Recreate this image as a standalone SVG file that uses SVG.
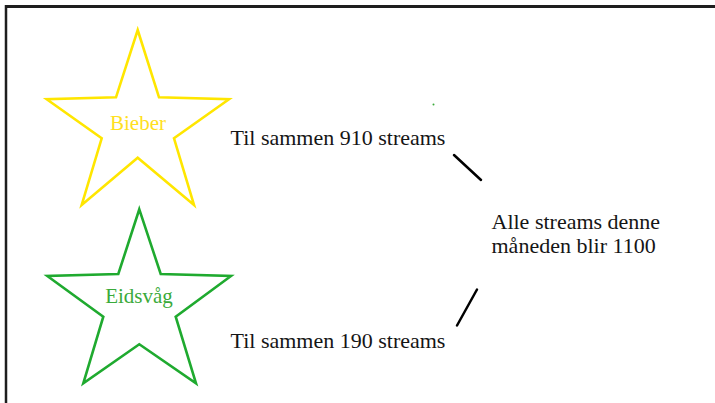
<svg xmlns="http://www.w3.org/2000/svg" width="715" height="403" viewBox="0 0 715 403">
<style>
.t{font-family:"Liberation Serif","Times New Roman",serif;font-size:22px;fill:#151515}
.lbl{font-family:"Liberation Serif","Times New Roman",serif;font-size:21px}
.star{fill:none;stroke-width:2.6;stroke-linejoin:miter}
</style>
<rect width="715" height="403" fill="#fff"/>
<g id="frame">
<line x1="6" y1="6.5" x2="715" y2="6.5" stroke="#1e1e1e" stroke-width="3"/>
<line x1="6" y1="5" x2="6" y2="403" stroke="#1e1e1e" stroke-width="2.5"/>
</g>
<g id="bieber">
<polygon class="star" stroke="#ffe600" points="137.7,30 159,97.3 229,99.3 174,138.3 194,205 137.7,157.7 81.7,205 101.7,138.3 46.7,99.3 116,97.3"/>
<text class="lbl" x="138" y="130" text-anchor="middle" fill="#ffe020">Bieber</text>
</g>
<g id="eidsvag">
<polygon class="star" stroke="#1faa2f" points="139.3,209.3 160.7,274 231,276 175.7,316.7 196,383.3 139.3,344.3 83.3,383.3 103.3,316.7 47.3,276 118.3,274"/>
<text class="lbl" x="139" y="302.5" text-anchor="middle" fill="#3aaa3a">Eidsvåg</text>
</g>
<g id="total910">
<text class="t" x="230.5" y="144.5">Til sammen 910 streams</text>
</g>
<g id="total190">
<text class="t" x="230.5" y="347.5">Til sammen 190 streams</text>
</g>
<g id="alle">
<text class="t" x="491.5" y="229.3">Alle streams denne</text>
<text class="t" x="491.5" y="252.7">måneden blir 1100</text>
</g>
<g id="connectors" stroke="#000" stroke-width="2.5" stroke-linecap="round">
<line x1="454" y1="155" x2="481" y2="180"/>
<line x1="477" y1="289.5" x2="457" y2="325.5"/>
</g>
<circle cx="433.5" cy="104.5" r="1" fill="#3aaa3a"/>
</svg>
